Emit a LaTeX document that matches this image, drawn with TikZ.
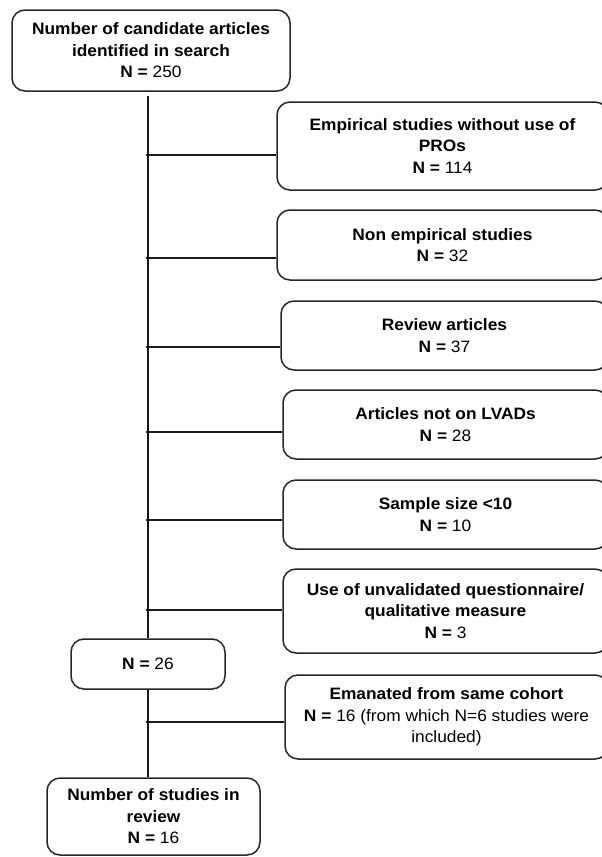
\documentclass[tikz,border=0pt]{standalone}
\usepackage{fontspec}
\setmainfont{Liberation Sans}[FakeStretch=1.05]
\begin{document}
\begin{tikzpicture}[x=1pt,y=-1pt,
  box/.style={draw=black!85, line width=1.5pt, rounded corners=13pt, align=center, inner sep=0pt,
    font=\fontsize{16.5}{21.5}\selectfont},
  conn/.style={line width=1.5pt, draw=black!90}]
\useasboundingbox (0,0) rectangle (602,857);
\clip (0,0) rectangle (602,857);
\fill[white] (0,0) rectangle (602,857);

\node[box, minimum width=278pt, minimum height=81pt] (top) at (151,50.5)
  {\textbf{Number of candidate articles}\\\textbf{identified in search}\\\textbf{N =} 250};
\node[box, minimum width=331pt, minimum height=88pt] (box1) at (442.5,146)
  {\textbf{Empirical studies without use of}\\\textbf{PROs}\\\textbf{N =} 114};
\node[box, minimum width=331pt, minimum height=70pt] (box2) at (442.5,245)
  {\textbf{Non empirical studies}\\\textbf{N =} 32};
\node[box, minimum width=327pt, minimum height=69pt] (box3) at (444.5,335.5)
  {\textbf{Review articles}\\\textbf{N =} 37};
\node[box, minimum width=325pt, minimum height=69pt] (box4) at (445.5,424.5)
  {\textbf{Articles not on LVADs}\\\textbf{N =} 28};
\node[box, minimum width=325pt, minimum height=69pt] (box5) at (445.5,514.5)
  {\textbf{Sample size <10}\\\textbf{N =} 10};
\node[box, minimum width=325pt, minimum height=84pt] (box6) at (445.5,611)
  {\textbf{Use of unvalidated questionnaire/}\\\textbf{qualitative measure}\\\textbf{N =} 3};
\node[box, minimum width=323pt, minimum height=84pt] (box7) at (446.5,717)
  {\textbf{Emanated from same cohort}\\\textbf{N =} 16 (from which N=6 studies were\\included)};
\node[box, minimum width=154pt, minimum height=50pt] (n26) at (148,664)
  {\textbf{N =} 26};
\node[box, minimum width=213pt, minimum height=77pt] (bot) at (153.5,816.5)
  {\textbf{Number of studies in}\\\textbf{review}\\\textbf{N =} 16};

\draw[conn] (top.south -| n26.north) ++(0,4) -- (n26.north);
\draw[conn] (n26.south) -- (n26.south |- bot.north);

\coordinate (b1) at (146,155);
\coordinate (b2) at (146,258);
\coordinate (b3) at (146,347);
\coordinate (b4) at (146,432);
\coordinate (b5) at (146,520);
\coordinate (b6) at (146,610);
\coordinate (b7) at (146,722);
\draw[conn] (b1) -- (b1 -| box1.west);
\draw[conn] (b2) -- (b2 -| box2.west);
\draw[conn] (b3) -- (b3 -| box3.west);
\draw[conn] (b4) -- (b4 -| box4.west);
\draw[conn] (b5) -- (b5 -| box5.west);
\draw[conn] (b6) -- (b6 -| box6.west);
\draw[conn] (b7) -- (b7 -| box7.west);
\end{tikzpicture}
\end{document}
